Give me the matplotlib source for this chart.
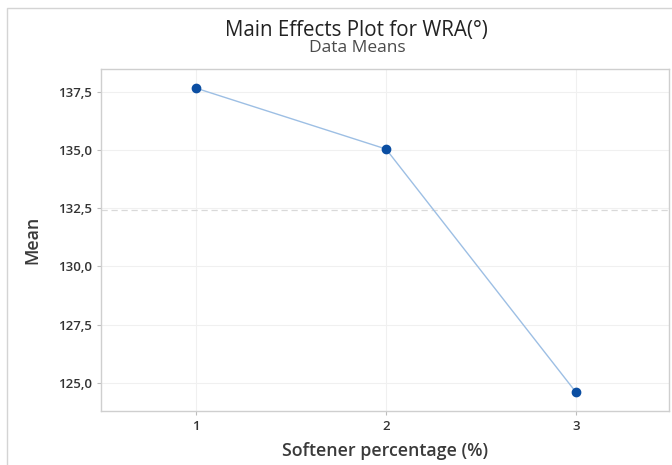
import numpy as np
import matplotlib.pyplot as plt
from matplotlib.ticker import FuncFormatter
from matplotlib.patches import Rectangle

# data
levels = [1, 2, 3]
means = [137.67, 135.05, 124.58]
yticks = [125.0, 127.5, 130.0, 132.5, 135.0, 137.5]

plt.rcParams['font.family'] = ['Open Sans', 'DejaVu Sans']

fig = plt.figure(figsize=(6.72, 4.65), dpi=100)
ax = fig.add_axes([0.150, 0.117, 0.846, 0.735])

# outer frame around the whole graph
fig.patches.append(Rectangle((7/672, -0.01), 1.0, 1 - 8/465 + 0.01, transform=fig.transFigure,
                             fill=False, edgecolor='#d4d4d4', linewidth=1.0))

ax.set_axisbelow(True)
ax.grid(True, color='#f0f0f0', linewidth=0.8)

grand_mean = np.mean(means)
ax.axhline(grand_mean, color='#d9d9d9', linestyle=(0, (5, 3)), linewidth=0.9)

ax.plot(levels, means, color='#9dbfe4', linewidth=1.0, zorder=3)
ax.plot(levels, means, 'o', color='#0b4ea2', markersize=6, zorder=4)

ax.set_xlim(0.5, 3.49)
ax.set_ylim(123.8, 138.5)
ax.set_xticks(levels)
ax.set_yticks(yticks)
ax.yaxis.set_major_formatter(FuncFormatter(lambda v, p: f"{v:.1f}".replace('.', ',')))

for s in ax.spines.values():
    s.set_color('#cfcfcf')
    s.set_linewidth(1.0)
ax.tick_params(colors='#bdbdbd', length=3, width=0.8, labelcolor='#333333', labelsize=9.5)
for lab in ax.get_xticklabels() + ax.get_yticklabels():
    lab.set_fontweight('semibold')

ax.set_xlabel('Softener percentage (%)', fontsize=12.8, color='#3a3a3a', fontweight='semibold', labelpad=7)
ax.set_ylabel('Mean', fontsize=12.8, color='#3a3a3a', fontweight='semibold', labelpad=12)

fig.text(0.531, 0.935, 'Main Effects Plot for WRA(°)', ha='center', va='center', fontsize=14.8, color='#222222')
fig.text(0.531, 0.897, 'Data Means', ha='center', va='center', fontsize=12.5, color='#4a4a4a')

fig.savefig('out.png', dpi=100)
